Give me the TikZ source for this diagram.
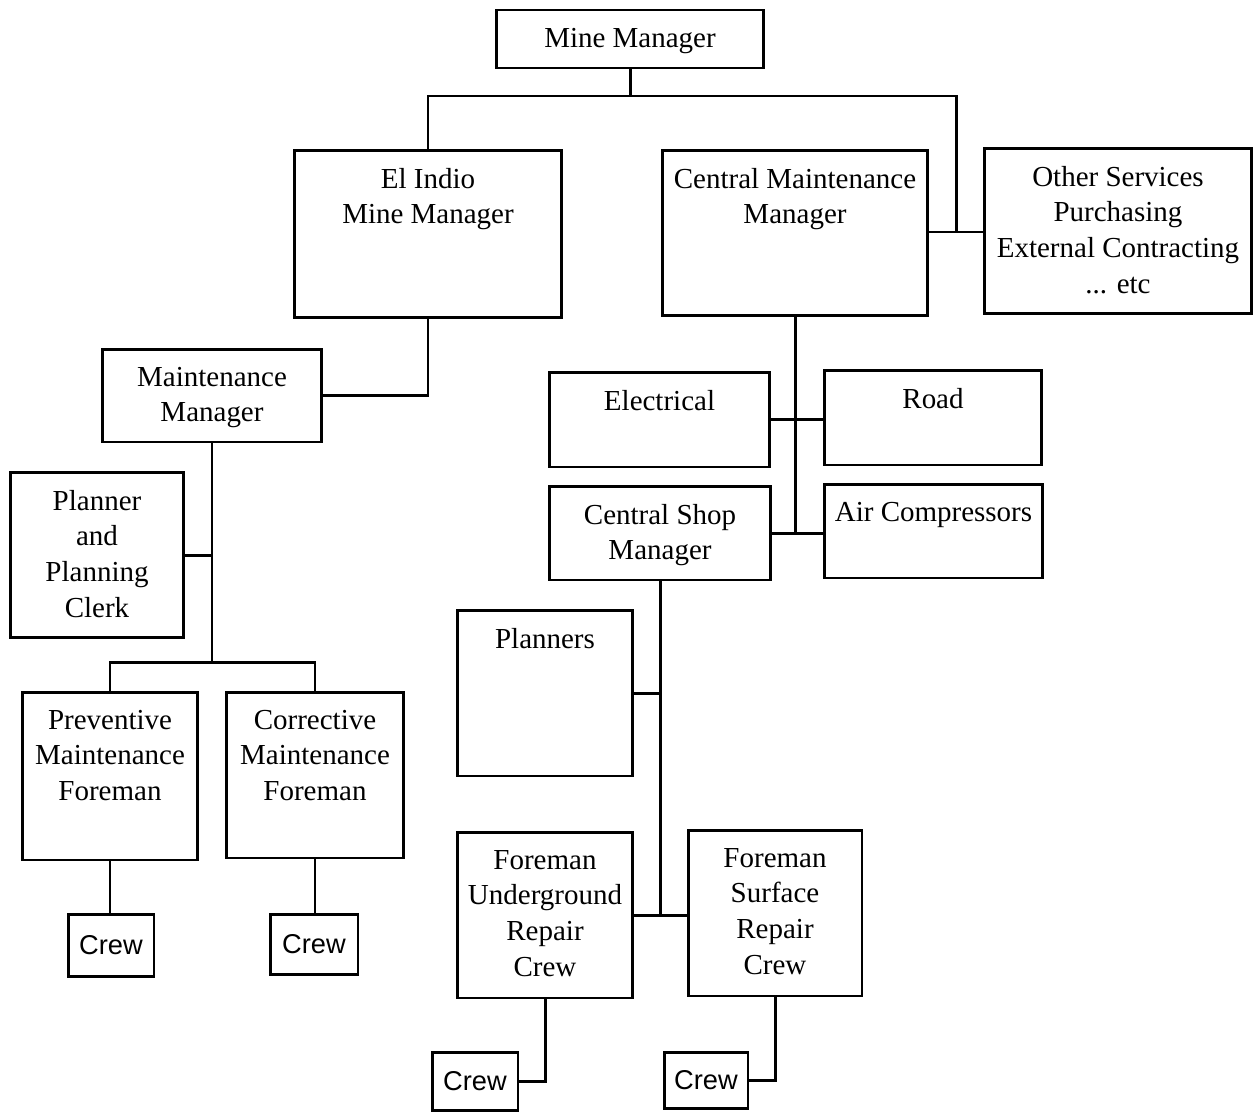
\documentclass[tikz,border=0pt]{standalone}
\usepackage{fontspec}
\setmainfont{Liberation Serif}
\newfontfamily\crewfont{Liberation Sans}
\usetikzlibrary{positioning,calc}

\begin{document}
\begin{tikzpicture}[x=0.02cm,y=-0.02cm,line width=1.7pt]
  \tikzstyle{box}=[draw,inner sep=0pt]
  \tikzstyle{caption}=[anchor=north,align=center,inner sep=0pt,yshift=-0.36cm,font=\fontsize{16.5}{20.3}\selectfont]
  \tikzstyle{crew}=[box,font=\crewfont\fontsize{15.5}{19}\selectfont]
  \useasboundingbox (0,0) rectangle (1254,1112);
  \node[box,minimum width=5.36cm,minimum height=1.16cm,label={[caption]north:Mine Manager}] (mine) at (630,39) {};
  \node[box,minimum width=5.36cm,minimum height=3.36cm,label={[caption]north:{El Indio\\Mine Manager}}] (elindio) at (428,234) {};
  \node[box,minimum width=5.32cm,minimum height=3.32cm,label={[caption]north:{Central Maintenance\\Manager}}] (central) at (795,233) {};
  \node[box,minimum width=5.36cm,minimum height=3.32cm,label={[caption]north:{Other Services\\Purchasing\\External Contracting\\... etc}}] (other) at (1118,231) {};
  \node[box,minimum width=4.4cm,minimum height=1.86cm,label={[caption]north:{Maintenance\\Manager}}] (maint) at (212,395.5) {};
  \node[box,minimum width=3.48cm,minimum height=3.32cm,label={[caption]north:{Planner\\and\\Planning\\Clerk}}] (planner) at (97,555) {};
  \node[box,minimum width=3.52cm,minimum height=3.36cm,label={[caption]north:{Preventive\\Maintenance\\Foreman}}] (prevent) at (110,776) {};
  \node[box,minimum width=3.56cm,minimum height=3.32cm,label={[caption]north:{Corrective\\Maintenance\\Foreman}}] (correct) at (315,775) {};
  \node[crew,minimum width=1.72cm,minimum height=1.24cm] (crewA) at (111,945) {Crew};
  \node[crew,minimum width=1.76cm,minimum height=1.2cm] (crewB) at (314,944) {Crew};
  \node[box,minimum width=4.42cm,minimum height=1.9cm,label={[caption]north:Electrical}] (elec) at (659.5,419.5) {};
  \node[box,minimum width=4.36cm,minimum height=1.9cm,label={[caption]north:Road}] (road) at (933,417.5) {};
  \node[box,minimum width=4.44cm,minimum height=1.88cm,label={[caption]north:{Central Shop\\Manager}}] (shop) at (660,533) {};
  \node[box,minimum width=4.38cm,minimum height=1.88cm,label={[caption]north:Air Compressors}] (aircomp) at (933.5,531) {};
  \node[box,minimum width=3.52cm,minimum height=3.32cm,label={[caption]north:Planners}] (planners) at (545,693) {};
  \node[box,minimum width=3.52cm,minimum height=3.32cm,label={[caption]north:{Foreman\\Underground\\Repair\\Crew}}] (fug) at (545,915) {};
  \node[box,minimum width=3.48cm,minimum height=3.32cm,label={[caption]north:{Foreman\\Surface\\Repair\\Crew}}] (fsurf) at (775,913) {};
  \node[crew,minimum width=1.72cm,minimum height=1.16cm] (crewC) at (475,1081) {Crew};
  \node[crew,minimum width=1.68cm,minimum height=1.12cm] (crewD) at (706,1080) {Crew};
  \coordinate (topbar) at (630,96);
  \coordinate (sidebar) at (956,232);
  \coordinate (maintbar) at (212,662);
  \draw (mine) -- (topbar);
  \draw (elindio.north) |- (topbar -| sidebar) -- (sidebar);
  \draw (central.east |- sidebar) -- (other.west |- sidebar);
  \draw (elindio.south) |- (maint.east);
  \draw (maint.south) -- (maintbar);
  \draw (planner.east) -- (planner.east -| maintbar);
  \draw (prevent.north) |- (maintbar) -| (correct.north);
  \draw (prevent.south) -- (prevent.south |- crewA.north);
  \draw (correct.south) -- (correct.south |- crewB.north);
  \draw (central.south) -- (central.south |- shop.east);
  \draw (elec.east) -- (road.west |- elec.east);
  \draw (shop.east) -- (aircomp.west |- shop.east);
  \draw (shop.south) -- (shop.south |- fug.east);
  \draw (planners.east) -- (planners.east -| shop.south);
  \draw (fug.east) -- (fsurf.west |- fug.east);
  \draw (fug.south) |- (crewC.east);
  \draw (fsurf.south) |- (crewD.east);
\end{tikzpicture}
\end{document}
